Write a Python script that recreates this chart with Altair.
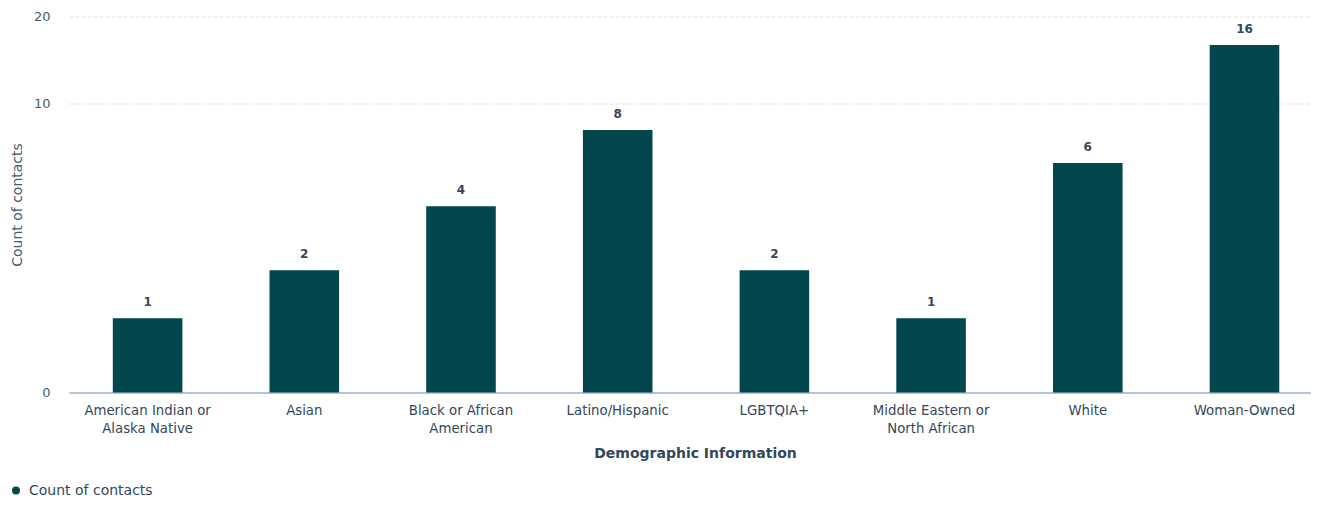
import altair as alt
import pandas as pd

categories = [
    "American Indian or Alaska Native",
    "Asian",
    "Black or African American",
    "Latino/Hispanic",
    "LGBTQIA+",
    "Middle Eastern or North African",
    "White",
    "Woman-Owned",
]
counts = [1, 2, 4, 8, 2, 1, 6, 16]
series_name = "Count of contacts"
y_ticks = [0, 10, 20]

label_lines = {
    "American Indian or Alaska Native": ["American Indian or", "Alaska Native"],
    "Black or African American": ["Black or African", "American"],
    "Middle Eastern or North African": ["Middle Eastern or", "North African"],
}

df = pd.DataFrame({"category": categories, "count": counts, "series": series_name})

expr = "datum.value"
for k, v in label_lines.items():
    expr = f"datum.value == '{k}' ? ['{v[0]}', '{v[1]}'] : (" + expr + ")"

FONT = "DejaVu Sans"
BAR = "#03474e"
TXT = "#33475b"

x = alt.X(
    "category:N",
    sort=categories,
    scale=alt.Scale(paddingInner=0.556, paddingOuter=0.241, align=0.58),
    axis=alt.Axis(
        title="Demographic Information",
        labelExpr=expr,
        labelAngle=0,
        labelFont=FONT,
        labelFontSize=13.3,
        labelColor=TXT,
        labelLineHeight=18,
        labelPadding=11,
        labelBaseline="top",
        ticks=False,
        domainColor="#b5c4d5",
        domainWidth=2,
        titleFont=FONT,
        titleFontSize=14,
        titleFontWeight="bold",
        titleColor=TXT,
        titleX=626,
        titleY=61,
        titleBaseline="middle",
        grid=False,
    ),
)

y = alt.Y(
    "count:Q",
    scale=alt.Scale(type="symlog", constant=1.4, domain=[0, 20], nice=False),
    axis=alt.Axis(
        title="Count of contacts",
        values=y_ticks,
        labelFont=FONT,
        labelFontSize=13,
        labelColor="#4a5b70",
        labelPadding=19,
        ticks=False,
        domain=False,
        grid=True,
        gridColor="#dfe3eb",
        gridDash=[4, 2],
        gridWidth=1,
        titleFont=FONT,
        titleFontSize=14,
        titleFontWeight="normal",
        titleColor="#4a5b70",
        titleAngle=-90,
        titleX=-52,
        titleY=188,
        titleAlign="center",
        titleBaseline="middle",
    ),
)

bars = alt.Chart(df).mark_bar(color=BAR).encode(
    x=x,
    y=y,
    color=alt.Color(
        "series:N",
        scale=alt.Scale(range=[BAR]),
        legend=alt.Legend(
            title=None,
            orient="none",
            legendX=-60,
            legendY=467,
            symbolType="circle",
            symbolSize=64,
            labelFont=FONT,
            labelFontSize=14,
            labelColor=TXT,
            labelOffset=6,
        ),
    ),
)

labels = alt.Chart(df).mark_text(
    baseline="bottom", dy=-9, font=FONT, fontSize=12, fontWeight="bold", color=TXT
).encode(
    x=alt.X("category:N", sort=categories),
    y=alt.Y("count:Q"),
    text="count:Q",
)

chart = (
    alt.layer(bars, labels)
    .properties(
        width=1242,
        height=376,
        autosize=alt.AutoSizeParams(type="none"),
        padding={"left": 61, "top": 8.5, "right": 0, "bottom": 105.5},
        background="white",
    )
    .configure_view(stroke=None)
)

chart.save("out.html", embed_options={"renderer": "svg", "actions": False})
